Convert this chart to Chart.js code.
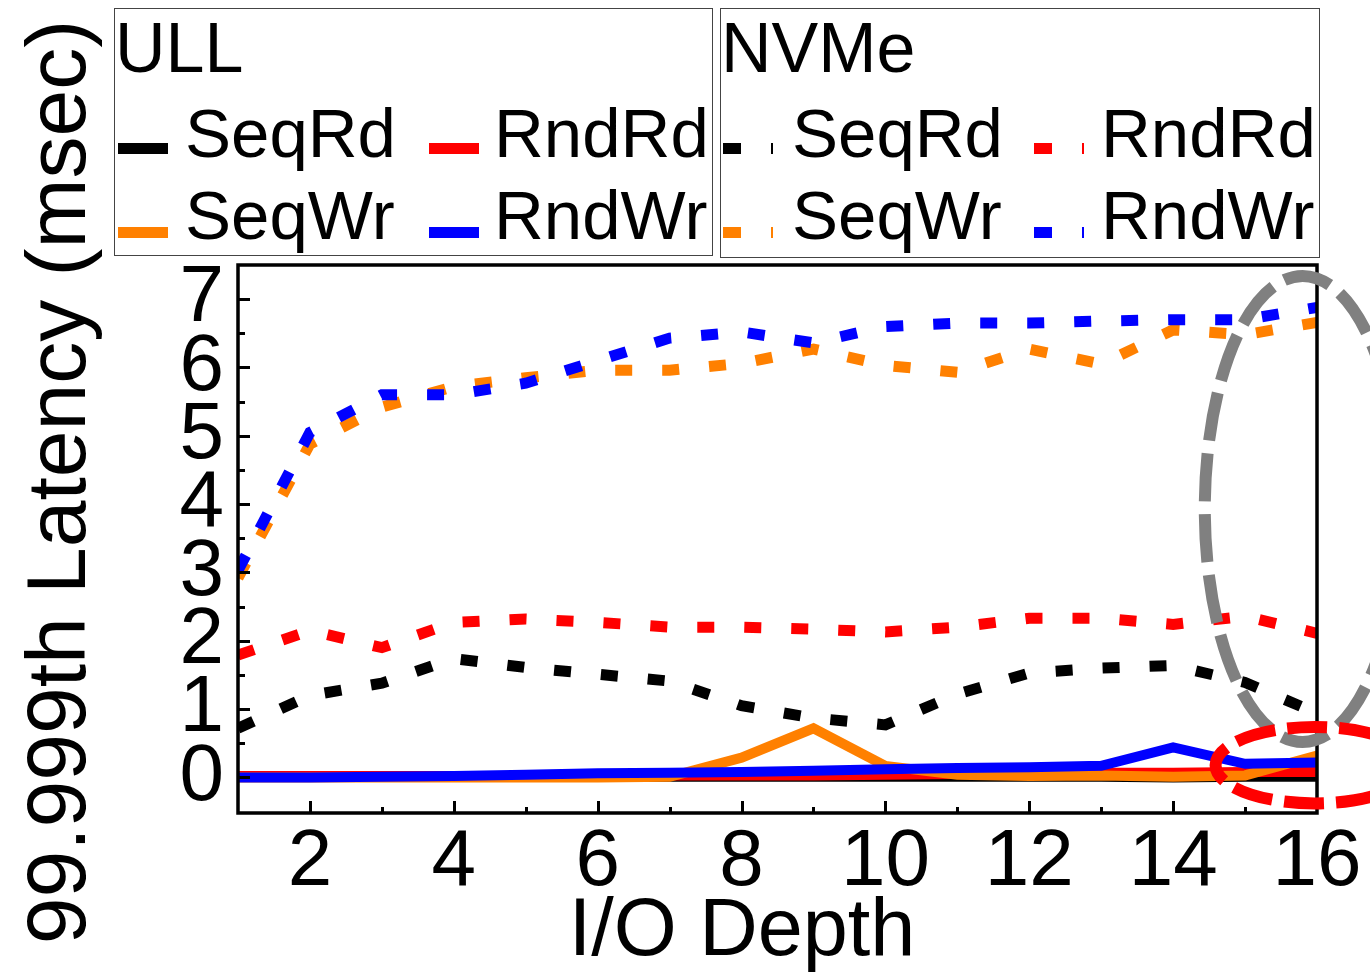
<!DOCTYPE html>
<html><head><meta charset="utf-8">
<script src="https://cdn.jsdelivr.net/npm/chart.js@4.4.1/dist/chart.umd.min.js"></script>
<style>
html,body{margin:0;padding:0;background:#fff;}
#wrap{position:relative;width:1370px;height:975px;overflow:hidden;font-family:'Liberation Sans',Arial,sans-serif;color:#000;}
canvas{position:absolute;left:0;top:0;}
.lgbox{position:absolute;border:1.5px solid #444;box-sizing:border-box;background:#fff;}
.txt{position:absolute;white-space:nowrap;}
.smp{position:absolute;height:11px;width:50px;}
</style></head><body><div id="wrap"><canvas id="c" width="1370" height="975"></canvas></div>
<script>
// ---------- data ----------
const ioDepth = [1,2,3,4,5,6,7,8,9,10,11,12,13,14,15,16];
const ullSeqRd  = [0.01,0.01,0.01,0.01,0.01,0.01,0.01,0.01,0.01,0.01,0.01,0.01,0.01,0.00,0.01,0.01];
const ullRndRd  = [0.02,0.02,0.02,0.02,0.02,0.02,0.03,0.03,0.03,0.04,0.05,0.06,0.07,0.07,0.08,0.08];
const ullSeqWr  = [0.00,0.00,0.00,0.00,0.00,0.00,0.01,0.29,0.72,0.17,0.04,0.02,0.03,0.01,0.03,0.32];
const ullRndWr  = [0.00,0.00,0.01,0.02,0.04,0.06,0.07,0.08,0.10,0.12,0.14,0.15,0.17,0.44,0.20,0.22];
const nvmeSeqRd = [0.72,1.20,1.38,1.74,1.61,1.51,1.41,1.05,0.87,0.77,1.22,1.53,1.60,1.64,1.39,0.94];
const nvmeRndRd = [1.79,2.15,1.90,2.27,2.32,2.27,2.20,2.20,2.17,2.13,2.20,2.33,2.33,2.24,2.36,2.11];
const nvmeSeqWr = [2.92,4.88,5.42,5.72,5.85,5.96,5.96,6.06,6.27,6.03,5.93,6.27,6.05,6.55,6.48,6.66];
const nvmeRndWr = [3.03,5.05,5.60,5.60,5.77,6.10,6.43,6.52,6.36,6.60,6.65,6.65,6.68,6.70,6.70,6.88];

const xTickValues = [1,2,3,4,5,6,7,8,9,10,11,12,13,14,15,16];
const xTickLabels = ['','2','','4','','6','','8','','10','','12','','14','','16'];
const yTickValues = [0,0.5,1,1.5,2,2.5,3,3.5,4,4.5,5,5.5,6,6.5,7];
const yTickLabels = ['0','','1','','2','','3','','4','','5','','6','','7'];

const groupNames = ['ULL','NVMe'];
const seriesNames = ['SeqRd','RndRd','SeqWr','RndWr'];
const seriesColors = ['#000000','#ff0000','#ff8000','#0000ff'];
const ullValues = [ullSeqRd, ullRndRd, ullSeqWr, ullRndWr];
const nvmeValues = [nvmeSeqRd, nvmeRndRd, nvmeSeqWr, nvmeRndWr];

const xTitle = 'I/O Depth';
const yTitle = '99.999th Latency (msec)';

// highlight ellipses (in data units)
const highlights = [
  {cx:15.80, cy:3.93, rx:1.36, ry:3.41, color:'#808080', dash:[48,13]},
  {cx:15.97, cy:0.18, rx:1.38, ry:0.56, color:'#ff0000', dash:[40,12]}
];

const FONT = "'Liberation Sans', Arial, sans-serif";

// ---------- datasets ----------
const datasets = [];
[ullValues, nvmeValues].forEach((grp, g) => {
  grp.forEach((vals, k) => {
    const dashed = g === 1;
    datasets.push({
      label: groupNames[g] + ' ' + seriesNames[k],
      data: ioDepth.map((x, i) => ({x: x, y: vals[i]})),
      borderColor: seriesColors[k],
      backgroundColor: seriesColors[k],
      borderWidth: dashed ? 11 : 10,
      borderDash: dashed ? [17, 30] : [],
      borderCapStyle: 'butt',
      borderJoinStyle: 'miter',
      pointRadius: 0,
      tension: 0,
      fill: false,
      order: (1 - g) * 4 + (4 - k)
    });
  });
});

// ---------- plugins ----------
const framePlugin = {
  id: 'frame',
  afterDatasetsDraw(chart) {
    const {ctx, chartArea: a, scales: {x, y}} = chart;
    ctx.save();
    ctx.strokeStyle = '#000';
    ctx.lineWidth = 3;
    ctx.beginPath();
    x.ticks.forEach(t => {
      if (t.value <= x.min || t.value >= x.max) return;
      const px = Math.round(x.getPixelForValue(t.value)) + 0.5;
      const len = (t.value % 2 === 0) ? 12 : 6;
      ctx.moveTo(px, a.bottom); ctx.lineTo(px, a.bottom - len);
    });
    y.ticks.forEach(t => {
      const py = Math.round(y.getPixelForValue(t.value)) + 0.5;
      const len = Number.isInteger(t.value) ? 12 : 7;
      ctx.moveTo(a.left, py); ctx.lineTo(a.left + len, py);
    });
    ctx.stroke();
    ctx.lineWidth = 3.5;
    ctx.strokeRect(a.left, a.top, a.right - a.left, a.bottom - a.top);
    ctx.restore();
  },
  afterDraw(chart) {
    const {ctx, scales: {x, y}} = chart;
    ctx.save();
    highlights.forEach(h => {
      const cx = x.getPixelForValue(h.cx), cy = y.getPixelForValue(h.cy);
      const rx = Math.abs(x.getPixelForValue(h.cx + h.rx) - cx);
      const ry = Math.abs(y.getPixelForValue(h.cy + h.ry) - cy);
      ctx.strokeStyle = h.color;
      ctx.lineWidth = 12;
      ctx.setLineDash(h.dash);
      ctx.beginPath();
      ctx.ellipse(cx, cy, rx, ry, 0, 0, Math.PI * 2);
      ctx.stroke();
    });
    ctx.restore();
  }
};

new Chart(document.getElementById('c'), {
  type: 'line',
  data: {datasets},
  options: {
    responsive: false,
    animation: false,
    devicePixelRatio: 1,
    layout: {padding: {top: 265, right: 53, left: 0, bottom: 0}},
    plugins: {legend: {display: false}, tooltip: {enabled: false}, title: {display: false}},
    scales: {
      x: {
        type: 'linear', min: 1, max: 16,
        afterBuildTicks: s => { s.ticks = xTickValues.map(v => ({value: v})); },
        afterFit: s => { s.height = 162; },
        grid: {display: false, drawTicks: false},
        border: {display: false},
        ticks: {autoSkip: false, maxRotation: 0, minRotation: 0, padding: 2, color: '#000',
          font: {family: FONT, size: 80}, callback: (v, i) => xTickLabels[i]}
      },
      y: {
        type: 'linear', min: -0.52, max: 7.5,
        afterBuildTicks: s => { s.ticks = yTickValues.map(v => ({value: v})); },
        afterFit: s => { s.width = 238; },
        grid: {display: false, drawTicks: false},
        border: {display: false},
        ticks: {autoSkip: false, padding: 14, color: '#000',
          font: {family: FONT, size: 80}, callback: (v, i) => yTickLabels[i]}
      }
    }
  },
  plugins: [framePlugin]
});

// ---------- HTML legend & axis titles ----------
const wrap = document.getElementById('wrap');
function el(cls, style, text) {
  const d = document.createElement('div');
  d.className = cls;
  Object.assign(d.style, style);
  if (text !== undefined) d.textContent = text;
  wrap.appendChild(d);
  return d;
}
const boxes = [
  {left:114, top:8, w:599, h:248, titleX:115, smpX:[118,429], txtX:[185,494]},
  {left:720, top:8, w:600, h:250, titleX:721, smpX:[723,1034], txtX:[792,1101]}
];
const rowSmpY = [143, 227], rowTxtY = [99, 181];
boxes.forEach((b, g) => {
  el('lgbox', {left:b.left+'px', top:b.top+'px', width:b.w+'px', height:b.h+'px'});
  el('txt', {left:b.titleX+'px', top:'13px', fontSize:'70px', lineHeight:'70px'}, groupNames[g]);
  seriesNames.forEach((n, k) => {
    const col = k % 2, row = Math.floor(k / 2);
    const c = seriesColors[k];
    el('smp', {left:b.smpX[col]+'px', top:rowSmpY[row]+'px',
      background: g === 0 ? c : `repeating-linear-gradient(to right, ${c} 0 18px, transparent 18px 48px)`});
    el('txt', {left:b.txtX[col]+'px', top:rowTxtY[row]+'px', fontSize:'69px', lineHeight:'69px'}, n);
  });
});
el('txt', {left:'342px', top:'887px', width:'800px', textAlign:'center', fontSize:'81px', lineHeight:'81px'}, xTitle);
el('txt', {left:'-444px', top:'440px', width:'1000px', height:'84px', textAlign:'center', fontSize:'84px', lineHeight:'84px', transform:'rotate(-90deg)'}, yTitle);
</script></body></html>
